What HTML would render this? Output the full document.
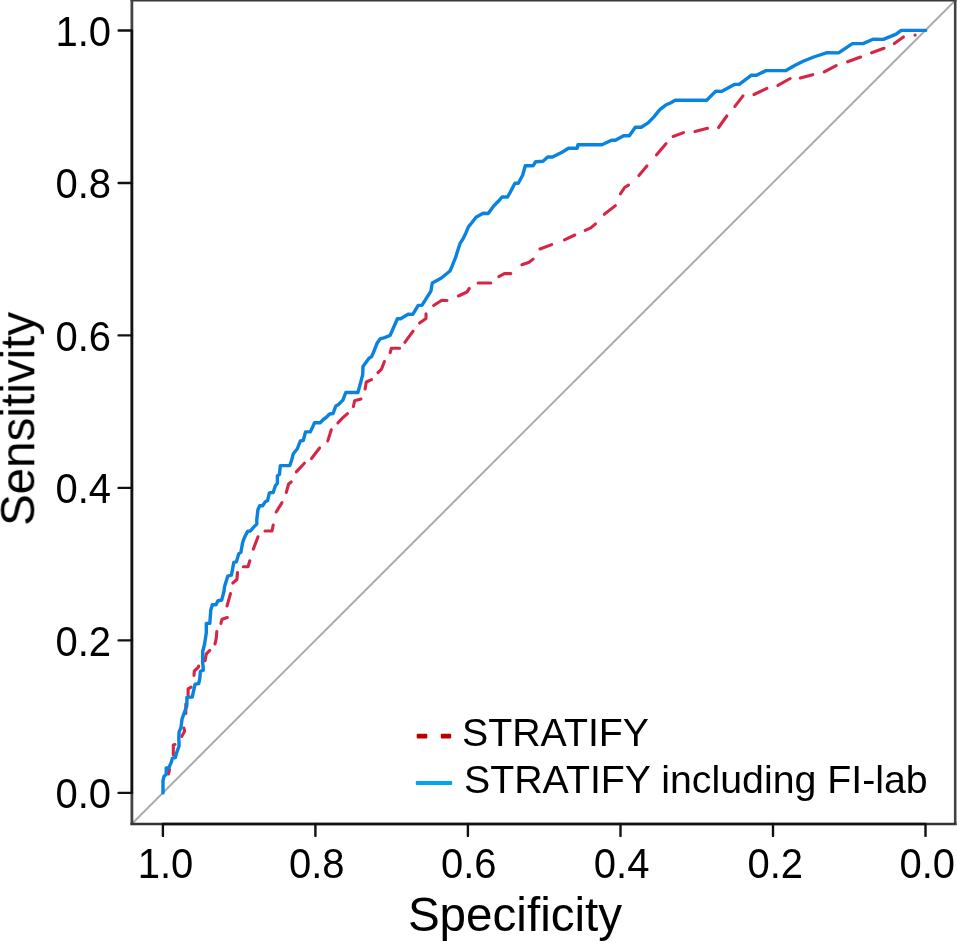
<!DOCTYPE html>
<html><head><meta charset="utf-8"><style>
html,body{margin:0;padding:0;background:#fff;overflow:hidden;}
svg{display:block;}
text{font-family:"Liberation Sans",sans-serif;fill:#000;}
.t{filter:grayscale(1);}
</style></head><body>
<svg width="957" height="941" viewBox="0 0 957 941">
<rect x="0" y="0" width="957" height="941" fill="#fff"/>
<line x1="131.7" y1="824" x2="955.7" y2="0" stroke="#ababab" stroke-width="2.0"/>
<g fill="none">
<path d="M130.5 0.35 H956.5" stroke="#383838" stroke-width="2.4"/>
<path d="M131.9 0 V825" stroke="#444" stroke-width="2.8"/>
<path d="M955.2 0 V825" stroke="#444" stroke-width="2.6"/>
<path d="M130.5 824 H956.5" stroke="#333" stroke-width="2.4"/>
</g>
<g stroke="#111" stroke-width="2.4" fill="none">
<path d="M131.9 30.5 V792.9" stroke-width="2.4"/>
<path d="M162.9 824 H925.5"/>
<path d="M118.6 30.5 H132 M118.6 183.0 H132 M118.6 335.4 H132 M118.6 487.9 H132 M118.6 640.4 H132 M118.6 792.9 H132 M162.9 824 V835.9 M315.4 824 V835.9 M467.9 824 V835.9 M620.5 824 V835.9 M773.0 824 V835.9 M925.5 824 V835.9" stroke-linecap="round"/>
</g>
<g class="t">
<g font-size="40" text-anchor="end">
<text x="111" y="0" transform="translate(0 45.70) scale(1 1.04)">1.0</text>
<text x="111" y="0" transform="translate(0 198.20) scale(1 1.04)">0.8</text>
<text x="111" y="0" transform="translate(0 350.60) scale(1 1.04)">0.6</text>
<text x="111" y="0" transform="translate(0 503.10) scale(1 1.04)">0.4</text>
<text x="111" y="0" transform="translate(0 655.60) scale(1 1.04)">0.2</text>
<text x="111" y="0" transform="translate(0 808.10) scale(1 1.04)">0.0</text>
</g>
<g font-size="40" text-anchor="middle">
<text x="165.5" y="0" transform="translate(0 878.0) scale(1 1.04)">1.0</text>
<text x="316.7" y="0" transform="translate(0 878.0) scale(1 1.04)">0.8</text>
<text x="468.8" y="0" transform="translate(0 878.0) scale(1 1.04)">0.6</text>
<text x="621.6" y="0" transform="translate(0 878.0) scale(1 1.04)">0.4</text>
<text x="775.2" y="0" transform="translate(0 878.0) scale(1 1.04)">0.2</text>
<text x="927.3" y="0" transform="translate(0 878.0) scale(1 1.04)">0.0</text>
</g>
<text font-size="47.6" x="515" y="930.5" text-anchor="middle">Specificity</text>
<text font-size="47.6" transform="translate(34.3 418.9) rotate(-90)" text-anchor="middle">Sensitivity</text>
<g font-size="39.3">
<text x="462" y="746">STRATIFY</text>
<text x="464" y="793">STRATIFY including FI-lab</text>
</g>
</g>
<rect x="416.7" y="733.85" width="10.6" height="4.75" rx="1" fill="#bb0000"/><rect x="440.8" y="733.85" width="10.4" height="4.75" rx="1" fill="#bb0000"/>
<rect x="415.8" y="781" width="36.4" height="3.9" rx="1" fill="#00a6ec"/>
<g fill="none" stroke-width="3.4" stroke-linejoin="round" stroke-linecap="round">
<polyline points="168.5,774 169.5,769.5" stroke="#d62646" stroke-width="3.1"/>
<polyline points="173.3,755 173.3,745 175,744.5" stroke="#d62646" stroke-width="3.1"/>
<polyline points="181.7,736.4 184.6,731.2 183.9,728" stroke="#d62646" stroke-width="3.1"/>
<polyline points="185.8,713.5 185.8,704" stroke="#d62646" stroke-width="3.1"/>
<polyline points="188.1,694.7 188.1,688.9 191.1,687.1" stroke="#d62646" stroke-width="3.1"/>
<polyline points="194,675.4 194.3,671 198.2,667.5 198.7,666" stroke="#d62646" stroke-width="3.1"/>
<polyline points="205.1,660.8 206.3,653.8 209.8,650.3" stroke="#d62646" stroke-width="3.1"/>
<polyline points="215,643.9 216.2,638.6 216.8,631.6" stroke="#d62646" stroke-width="3.1"/>
<polyline points="220.9,623.4 222,619.3 227.3,617.5" stroke="#d62646" stroke-width="3.1"/>
<polyline points="227,606 230.5,593.6" stroke="#d62646" stroke-width="3.1"/>
<polyline points="232.8,583 236.9,579.5 237.5,572.5" stroke="#d62646" stroke-width="3.1"/>
<polyline points="243.3,566.7 248,566.7 249.8,560.8" stroke="#d62646" stroke-width="3.1"/>
<polyline points="253.3,549.1 258,536.8" stroke="#d62646" stroke-width="3.1"/>
<polyline points="265,531 272,531 273.2,525.1" stroke="#d62646" stroke-width="3.1"/>
<polyline points="276.2,512 282,502.6" stroke="#d62646" stroke-width="3.1"/>
<polyline points="286.3,492.4 288.6,484 291.2,482" stroke="#d62646" stroke-width="3.1"/>
<polyline points="296.3,471.9 304.4,463.2" stroke="#d62646" stroke-width="3.1"/>
<polyline points="311.5,458.5 319.6,448" stroke="#d62646" stroke-width="3.1"/>
<polyline points="327.8,440.9 331.3,429.8" stroke="#d62646" stroke-width="3.1"/>
<polyline points="337.9,422.8 342.9,417.7 347.5,413.6" stroke="#d62646" stroke-width="3.1"/>
<polyline points="353.4,406.5 354.6,400.7 361,399" stroke="#d62646" stroke-width="3.1"/>
<polyline points="365.1,389 366.3,382 371.5,379.6" stroke="#d62646" stroke-width="3.1"/>
<polyline points="378,372.6 381.5,369.1 384.4,361.5" stroke="#d62646" stroke-width="3.1"/>
<polyline points="390.2,352.7 391.4,348.2 399.6,348.2" stroke="#d62646" stroke-width="3.1"/>
<polyline points="404.9,342.3 407.9,338.2 413.1,331.2" stroke="#d62646" stroke-width="3.1"/>
<polyline points="419.6,323 426,318.4 426,313.7" stroke="#d62646" stroke-width="3.1"/>
<polyline points="433.6,305.5 441.8,300.2 447,300.5" stroke="#d62646" stroke-width="3.1"/>
<polyline points="458.5,296 466.9,292 469.3,288.5" stroke="#d62646" stroke-width="3.1"/>
<polyline points="478.1,283 490.8,283" stroke="#d62646" stroke-width="3.1"/>
<polyline points="498.8,276.6 504.4,273.6 510.8,273.6" stroke="#d62646" stroke-width="3.1"/>
<polyline points="521.9,264.7 529.1,262.3 533.1,259.1" stroke="#d62646" stroke-width="3.1"/>
<polyline points="540,249 551.7,244.6" stroke="#d62646" stroke-width="3.1"/>
<polyline points="564.5,239.8 574.8,235" stroke="#d62646" stroke-width="3.1"/>
<polyline points="585.2,230.3 590.8,227.9 595.5,223.9" stroke="#d62646" stroke-width="3.1"/>
<polyline points="604.3,214.3 615.4,205.6" stroke="#d62646" stroke-width="3.1"/>
<polyline points="620.4,193.8 624.6,187.5 628.5,185.1" stroke="#d62646" stroke-width="3.1"/>
<polyline points="638.9,175.6 646.9,166" stroke="#d62646" stroke-width="3.1"/>
<polyline points="656.4,154.9 666,143.7" stroke="#d62646" stroke-width="3.1"/>
<polyline points="673.1,136.5 683.5,132.6" stroke="#d62646" stroke-width="3.1"/>
<polyline points="695,131.6 707.5,128.3" stroke="#d62646" stroke-width="3.1"/>
<polyline points="718.6,127.5 726.8,116" stroke="#d62646" stroke-width="3.1"/>
<polyline points="734.9,106.4 743,95.9" stroke="#d62646" stroke-width="3.1"/>
<polyline points="754,94.5 766.9,88.3" stroke="#d62646" stroke-width="3.1"/>
<polyline points="777.9,85.4 790.2,78.5" stroke="#d62646" stroke-width="3.1"/>
<polyline points="800.3,78.1 807,76.2 812.7,74.7" stroke="#d62646" stroke-width="3.1"/>
<polyline points="824.2,71.9 836.2,65.6" stroke="#d62646" stroke-width="3.1"/>
<polyline points="847.6,61.8 860.6,57" stroke="#d62646" stroke-width="3.1"/>
<polyline points="871.6,52.8 884,48.3" stroke="#d62646" stroke-width="3.1"/>
<polyline points="894.3,43.5 903.4,37" stroke="#d62646" stroke-width="3.1"/>
<polyline points="915,35.1 915.2,35.1" stroke="#d62646" stroke-width="3.1"/>
<polyline points="163,792.9 163,780.7 164,776.5 166.2,774.3 166.2,768 168.8,768 171.5,761.6 172.3,758.4 175.3,757.7 176.6,752.9 179.1,745.9 178.8,738.3 179.1,731.9 181,727.4 182,719.1 183.6,714.7 185.2,710.2 186.8,705.7 187,697.1 192.2,697.1 195.1,684.2 198.7,683.6 199.8,678.4 200.4,671.3 203.3,670.2 202.7,662 202.7,651.5 204.5,644.4 206.3,632.7 206.3,623.4 209.8,623.4 210.8,610 212.3,604.7 216,604.7 217.8,601 221.7,600 224,591.2 224.6,586.5 227.7,576.2 231.4,575.2 233.8,562.4 236.4,561.9 238.8,553.6 240.9,552.3 242.5,543.3 243.6,539.6 245.5,535.3 247.8,531.2 250.4,531 253.9,526.9 256.8,524 256.8,519.3 258,509.4 259.7,505.8 262.6,505.8 265.3,501.8 267.6,500.6 269.4,492.8 270.5,492.6 273.2,492.6 275.3,485.9 277.4,483.3 277.4,475.8 279.5,474.3 280.3,465.6 289.8,465.5 291.6,460.3 293.2,454 295.5,451 297.2,449 300.4,440.9 303.3,440.5 305.5,431.9 310.2,431.9 312.3,427.8 314.5,422.7 320.3,422.7 323.3,419.5 326.1,417.5 329.6,414 333.1,413.5 335.8,406 338.2,404.8 342.9,400.1 345.8,392.5 357.9,392.5 360.8,382 362.7,374.6 363,366.4 365.7,362.7 369,358.2 371.6,356.6 373.5,352.3 377.2,343 380.1,338.9 384.6,337.6 389.1,335.9 390.2,335.2 397.4,318.7 400.6,318.7 408.1,314.2 412.8,314.4 418.2,305.4 421.9,305.4 430.9,291.1 432.3,283 441,278.3 450,271 452.3,265.7 455.6,257.4 457.6,251 460.1,243.4 463.3,238.3 465.8,233.2 468.4,226.8 471.6,223 476,217.2 483.1,213.3 488.2,213.5 493.3,206.4 496.6,203 499.6,200 502,197 507.6,197 511.1,190.6 514.9,183.2 518.3,183.2 522.6,175.3 525.3,165.7 533.2,165.7 535.7,161.7 543,161.3 547.7,157 552.5,157 562.1,152.2 568.5,148.2 577.2,148.2 578,144.6 601.9,144.8 611.5,140.3 615.4,140.3 623.6,135.7 629.3,135.8 635.3,127.2 641.2,127.2 648.1,122.9 653.9,116.8 659.8,109.6 666.1,104.8 670.4,103 675.2,100.3 706.7,100.3 715.8,91.1 721.5,91.4 734.4,84.4 739.2,84.4 751.2,75.3 756.4,75.3 766,70.6 786,70.5 794.6,65.6 803.2,61.3 813.7,57 827.1,52.7 838.6,52.9 852.4,43.6 863,43.6 873,39.2 883.3,39.4 895.7,34.4 901.2,30.4 925.7,30.4" stroke="#0883df"/>
</g>
</svg>
</body></html>
